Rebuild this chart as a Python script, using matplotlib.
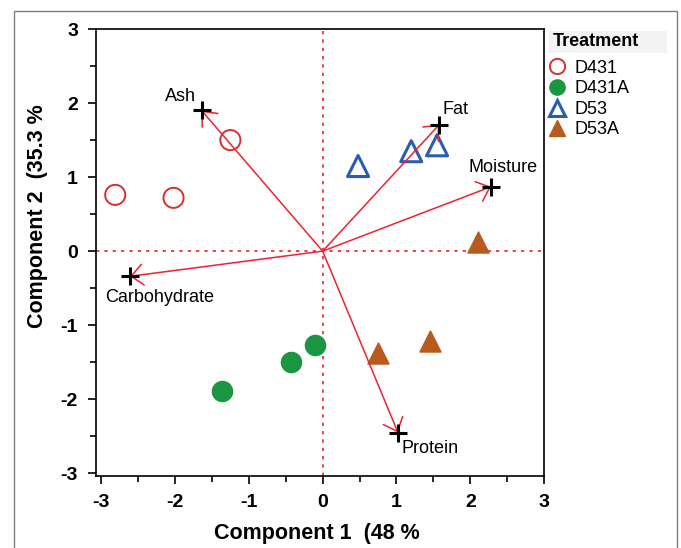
import matplotlib.pyplot as plt
from matplotlib.patches import Rectangle
from matplotlib.lines import Line2D

plt.rcParams['font.family'] = ['Liberation Sans', 'DejaVu Sans']
plt.rcParams['axes.unicode_minus'] = False

# scores per treatment (Component 1, Component 2)
d431_x = [-2.81, -2.02, -1.25]
d431_y = [0.76, 0.72, 1.50]
d431a_x = [-1.36, -0.43, -0.11]
d431a_y = [-1.89, -1.50, -1.27]
d53_x = [0.48, 1.20, 1.55]
d53_y = [1.15, 1.35, 1.43]
d53a_x = [2.11, 0.75, 1.46]
d53a_y = [0.13, -1.37, -1.22]

# loadings
var_names = ["Ash", "Fat", "Moisture", "Carbohydrate", "Protein"]
var_x = [-1.64, 1.58, 2.28, -2.61, 1.02]
var_y = [1.90, 1.71, 0.87, -0.34, -2.45]

fig = plt.figure(figsize=(6.81, 5.48), dpi=100)
ax = fig.add_axes([0.141, 0.131, 0.658, 0.816])

# outer frame and legend title band
fig.patches.append(Rectangle((0.0206, -0.05), 0.973, 1.03, transform=fig.transFigure,
                             fill=False, edgecolor="#7f7f7f", linewidth=1.0))
fig.patches.append(Rectangle((549 / 681, 1 - 53 / 548), 118 / 681, 22 / 548,
                             transform=fig.transFigure, facecolor="#f3f3f3",
                             edgecolor="none", zorder=0))

ax.axhline(0, color="#ee2233", linestyle=(0, (2, 3)), linewidth=1.2, zorder=1)
ax.axvline(0, color="#ee2233", linestyle=(0, (2, 3)), linewidth=1.2, zorder=1)

ax.scatter(d431_x, d431_y, s=210, facecolors="none", edgecolors="#d7302c", linewidths=1.4, zorder=3)
ax.scatter(d431a_x, d431a_y, s=210, color="#1a9641", zorder=3)
ax.scatter(d53_x, d53_y, s=230, marker="^", facecolors="none", edgecolors="#2a5db0", linewidths=2.2, zorder=3)
ax.scatter(d53a_x, d53a_y, s=230, marker="^", color="#b85a1e", zorder=3)

for name, vx, vy in zip(var_names, var_x, var_y):
    ax.annotate("", xy=(vx, vy), xytext=(0, 0),
                arrowprops=dict(arrowstyle="->,head_length=0.85,head_width=0.75",
                                color="#ee2233", lw=1.1, shrinkA=0, shrinkB=0), zorder=4)
    ax.plot(vx, vy, marker="+", color="black", markersize=13, mew=2.2, zorder=5)

label_pos = {
    "Ash": (-1.93, 2.09),
    "Fat": (1.80, 1.92),
    "Moisture": (2.44, 1.13),
    "Carbohydrate": (-2.21, -0.63),
    "Protein": (1.46, -2.66),
}
for name in var_names:
    lx, ly = label_pos[name]
    ax.text(lx, ly, name, ha="center", va="center", fontsize=13)

ax.set_xlim(-3.07, 3.0)
ax.set_ylim(-3.04, 3.0)
ax.set_xticks([-3, -2, -1, 0, 1, 2, 3])
ax.set_yticks([-3, -2, -1, 0, 1, 2, 3])
ax.set_xticks([-2.5, -1.5, -0.5, 0.5, 1.5, 2.5], minor=True)
ax.set_yticks([-2.5, -1.5, -0.5, 0.5, 1.5, 2.5], minor=True)
ax.tick_params(which="major", direction="out", length=6, width=1.2, labelsize=14, pad=7)
ax.tick_params(which="minor", direction="out", length=4, width=1.2)
for lbl in ax.get_xticklabels() + ax.get_yticklabels():
    lbl.set_fontweight("bold")
for s in ax.spines.values():
    s.set_linewidth(1.2)

ax.set_xlabel("Component 1  (48 %", fontsize=15.5, fontweight="bold")
ax.set_ylabel("Component 2  (35.3 %", fontsize=15.5, fontweight="bold")
ax.xaxis.set_label_coords(0.493, -0.105)
ax.yaxis.set_label_coords(-0.108, 0.582)

handles = [
    Line2D([], [], linestyle="none", marker="o", markersize=11, markerfacecolor="none",
           markeredgecolor="#d7302c", mew=1.4),
    Line2D([], [], linestyle="none", marker="o", markersize=11, color="#1a9641"),
    Line2D([], [], linestyle="none", marker="^", markersize=12, markerfacecolor="none",
           markeredgecolor="#2a5db0", mew=2.2),
    Line2D([], [], linestyle="none", marker="^", markersize=12, color="#b85a1e"),
]
fig.text(553 / 681, 1 - 42 / 548, "Treatment", fontsize=13, fontweight="bold",
         ha="left", va="center")
leg = fig.legend(handles, ["D431", "D431A", "D53", "D53A"], loc="upper left",
                 bbox_to_anchor=(544 / 681, 1 - 56 / 548), frameon=False, fontsize=13,
                 handletextpad=0.5, handlelength=1.0, labelspacing=0.2,
                 borderpad=0.2, borderaxespad=0.0)

fig.savefig("out.png", dpi=100)
plt.close(fig)
